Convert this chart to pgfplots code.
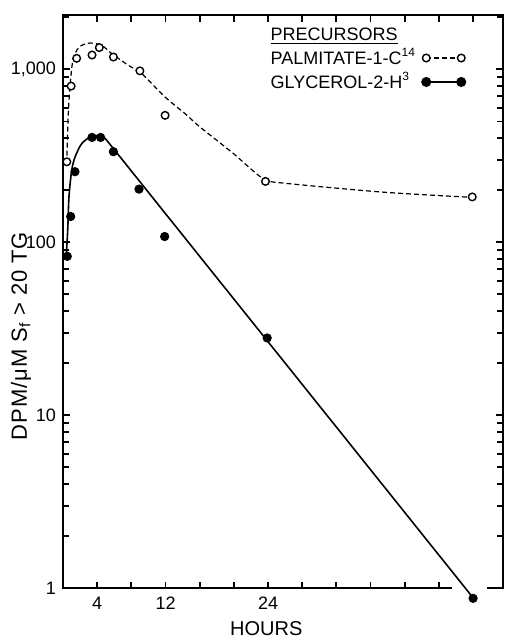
\documentclass[border=0pt]{standalone}
\usepackage{fontspec}
\setmainfont{Liberation Sans}
\usepackage{pgfplots}
\pgfplotsset{compat=1.18}
\usepackage{pgfplotstable}

% Palmitate-1-C14: measured points
\pgfplotstableread{
h     v
0.45  292
0.95  800
1.6   1158
3.4   1210
4.25  1336
5.9   1178
9.0   980
11.95 542
23.7  225
47.9  183
}\palmpts

% Palmitate-1-C14: fitted curve
\pgfplotstableread{
h     v
0.43  285
0.62  554
0.82  790
1.09  1079
1.41  1233
1.99  1358
3.16  1419
4.53  1376
5.70  1233
7.65  1055
9.22  944
11.94 692
14.29 554
16.04 464
19.91 327
21.9  268
23.65 230
25.76 220
37.47 195
47.89 182
}\palmfit

% Glycerol-2-H3: measured points
\pgfplotstableread{
h     v
0.5   83
0.9   141
1.4   256
3.4   404
4.4   404
5.9   334
8.9   203
11.9  108
23.9  28
48.0  0.875
}\glypts

% Glycerol-2-H3: rising part of the curve
\pgfplotstableread{
h     v
0.35  79
0.55  117
0.70  183
1.02  261
1.41  311
2.19  372
3.36  410
4.53  410
5.12  389
}\glyrise

% Glycerol-2-H3: exponential decay (straight on the log scale)
\pgfplotstableread{
h     v
5.12  389
48.05 0.875
}\glydecay

\begin{document}
\begin{tikzpicture}
\begin{axis}[
  name=ax, at={(0,0)}, anchor=south west,
  set layers,
  scale only axis, width=220pt, height=286.65pt,
  ymode=log, xmin=0, xmax=51.5, ymin=1, ymax=2061,
  clip=false,
  axis line style={black, line width=1pt},
  xtick={4,8,...,48},
  xticklabels={4,,12,,,24,,,,,,},
  ytick={1,10,100,1000},
  yticklabels={1,10,100,{1,000}},
  minor ytick={2,3,...,9,20,30,...,90,200,300,...,900,2000},
  major tick length=3.4pt, minor tick length=3pt,
  every tick/.append style={black, line width=0.9pt},
  tick label style={font=\fontsize{9}{10}\selectfont},
  xticklabel style={yshift=-1pt},
  xlabel={HOURS},
  xlabel style={at={([yshift=-20pt]axis cs:23.8,1)}, anchor=center,
    font=\fontsize{10}{12}\selectfont},
  ylabel={DPM/μM S\textsubscript{f} > 20 TG},
  ylabel style={at={([xshift=-21pt]rel axis cs:0,0.44)}, anchor=center,
    font=\fontsize{11}{12}\selectfont\addfontfeatures{LetterSpace=4}},
  legend style={at={(0.462,0.985)}, anchor=north west, draw=none, fill=none,
    inner sep=0pt, row sep=-1.5pt, column sep=1pt,
    font=\fontsize{9}{10}\selectfont, cells={anchor=west}},
  legend plot pos=right,
  legend image code/.code={\draw[mark repeat=2,mark phase=1,#1]
    plot coordinates {(0pt,0pt) (8.75pt,0pt) (17.5pt,0pt)};},
]
% break in the hours axis under the last point
\fill[white] ([yshift=-1.5pt]axis cs:45.5,1) rectangle ([yshift=4pt]axis cs:49.6,1);

\addlegendimage{empty legend}
\addlegendentry{\underline{PRECURSORS}\rule[-4.3pt]{0pt}{1pt}}
\addlegendimage{black, line width=0.6pt, dash pattern=on 2.5pt off 1.5pt,
  mark=*, mark size=1.9pt, mark options={solid, fill=white, line width=0.7pt}}
\addlegendentry{PALMITATE-1-C\textsuperscript{14}}
\addlegendimage{black, line width=0.8pt, mark=*, mark size=2.1pt}
\addlegendentry{GLYCEROL-2-H\textsuperscript{3}}

\addplot[black, line width=0.6pt, dash pattern=on 2.5pt off 1.5pt, smooth, forget plot]
  table[x=h, y=v] {\palmfit};
\addplot[black, line width=0.8pt, smooth, forget plot] table[x=h, y=v] {\glyrise};
\addplot[black, line width=0.8pt, sharp plot, forget plot] table[x=h, y=v] {\glydecay};

\addplot[only marks, mark=*, mark size=1.9pt,
  mark options={draw=black, fill=white, line width=0.7pt}, forget plot]
  table[x=h, y=v] {\palmpts};
\addplot[only marks, mark=*, mark size=2.1pt, mark options={draw=black, fill=black},
  forget plot] table[x=h, y=v] {\glypts};
\end{axis}
\pgfresetboundingbox
\path ([shift={(-31.5pt,-24.85pt)}]ax.south west) rectangle ([shift={(1.5pt,7.5pt)}]ax.north east);
\end{tikzpicture}
\end{document}
